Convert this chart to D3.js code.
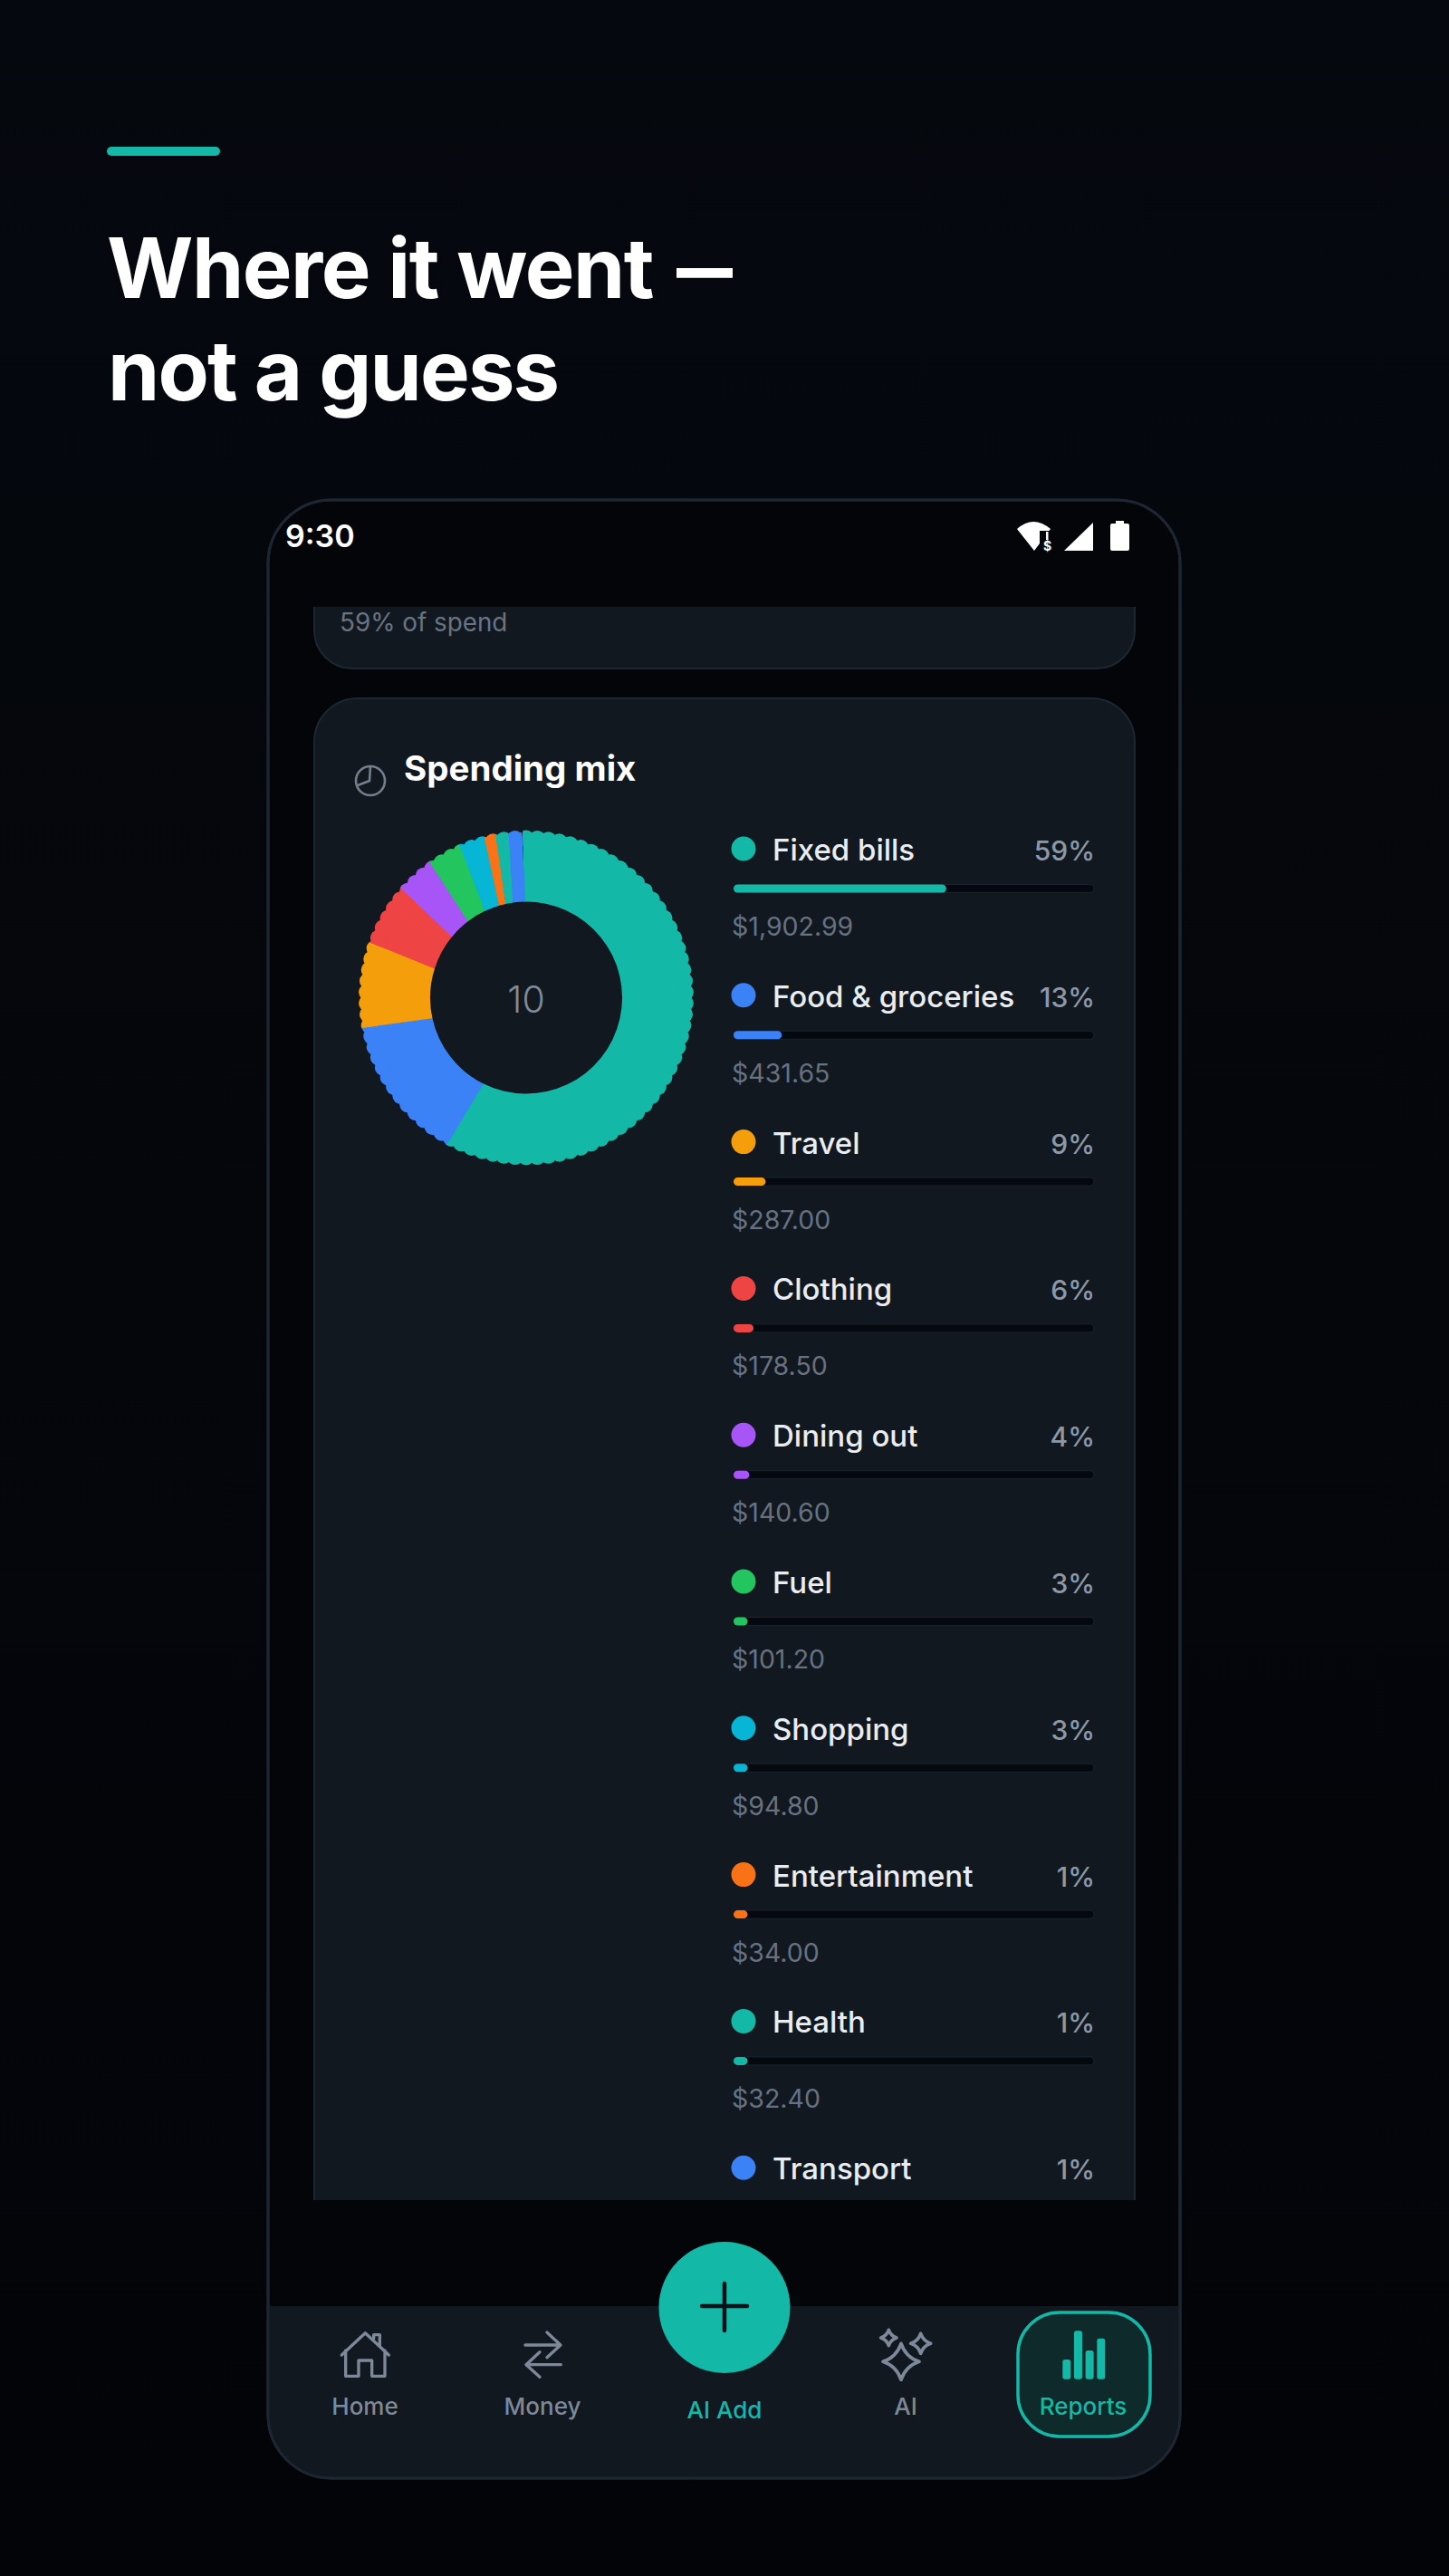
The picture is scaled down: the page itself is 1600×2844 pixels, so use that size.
<!DOCTYPE html>
<html>
<head>
<meta charset="utf-8">
<title>Where it went</title>
<script src="https://cdn.jsdelivr.net/npm/d3@7"></script>
<style>
  html, body { margin: 0; padding: 0; background: #04060b; }
  svg { display: block; font-family: Inter, "Open Sans", sans-serif; }
</style>
</head>
<body>
<div id="chart"></div>
<script>
// legend rows, top to bottom
const categories = ["Fixed bills", "Food & groceries", "Travel", "Clothing", "Dining out", "Fuel", "Shopping", "Entertainment", "Health", "Transport"]
const percentLabels = ["59%", "13%", "9%", "6%", "4%", "3%", "3%", "1%", "1%", "1%"]
const amounts = [1902.99, 431.65, 287.00, 178.50, 140.60, 101.20, 94.80, 34.00, 32.40]   // transport row is cut off by the scroll
const colors = ["#14b8a6", "#3b82f6", "#f59e0b", "#ef4444", "#a855f7", "#22c55e", "#06b6d4", "#f97316", "#14b8a6", "#3b82f6"]
// share of the ring each slice takes
const sliceShares = [57.8, 14.2, 8.3, 6.0, 3.7, 3.3, 2.5, 1.1, 1.25, 1.6]
const totalSpend = 3225
const centerLabel = "10"

const navLabels = ["Home", "Money", "AI Add", "AI", "Reports"]

const W = 1600, H = 2844
const teal = "#14b8a6", card = "#111820", edge = "#1d2631", muted = "#8d98a7", dim = "#677280", navGrey = "#7d8998"

const svg = d3.select("#chart").append("svg")
    .attr("width", W)
    .attr("height", H)

const defs = svg.append("defs")
const bg = defs.append("linearGradient").attr("id", "bg").attr("x1", 0).attr("y1", 0).attr("x2", 0).attr("y2", 1)
bg.append("stop").attr("offset", 0).attr("stop-color", "#05080e")
bg.append("stop").attr("offset", 1).attr("stop-color", "#030408")
svg.append("rect").attr("width", W).attr("height", H).attr("fill", "url(#bg)")

// headline
svg.append("rect").attr("x", 118).attr("y", 162).attr("width", 125).attr("height", 10).attr("rx", 5).attr("fill", teal)
const line1 = svg.append("text").attr("x", 118).attr("y", 329).attr("font-size", 92).attr("font-weight", 700)
    .attr("letter-spacing", -1.5).attr("fill", "#fff")
line1.append("tspan").text("Where it went ")
// the dash is much shorter in the original face
line1.append("tspan").attr("x", 747).attr("textLength", 61).attr("lengthAdjust", "spacingAndGlyphs").text("—")
svg.append("text").attr("x", 119).attr("y", 442).attr("font-size", 92).attr("font-weight", 700)
    .attr("letter-spacing", -1.85).attr("fill", "#fff").text("not a guess")

// phone
const phone = { x: 296, y: 552, w: 1007, h: 2184, r: 70 }
svg.append("rect").attr("x", phone.x).attr("y", phone.y).attr("width", phone.w).attr("height", phone.h)
    .attr("rx", phone.r).attr("fill", "#030509").attr("stroke", edge).attr("stroke-width", 3)

svg.append("text").attr("x", 315).attr("y", 604).attr("font-size", 34).attr("font-weight", 600).attr("fill", "#fff").text("9:30")

const status = svg.append("g")
status.append("path").attr("d", "M1142,608 L1123,584 Q1141,568 1160,584 Z").attr("fill", "#fff")
status.append("rect").attr("x", 1148).attr("y", 586).attr("width", 14).attr("height", 24).attr("fill", "#030509")
status.append("rect").attr("x", 1155).attr("y", 587).attr("width", 2.5).attr("height", 9).attr("fill", "#fff")
status.append("text").attr("x", 1156.5).attr("y", 608).attr("text-anchor", "middle").attr("font-size", 14)
    .attr("font-weight", 700).attr("fill", "#fff").text("$")
status.append("path").attr("d", "M1175,608 L1207,577 L1207,608 Z").attr("fill", "#fff")
status.append("path").attr("d", "M1226,580 Q1226,578 1228,578 L1232,578 L1232,575 L1241,575 L1241,578 L1245,578 Q1247,578 1247,580 L1247,606 Q1247,608 1245,608 L1228,608 Q1226,608 1226,606 Z").attr("fill", "#fff")

// scroll area clips the cards
defs.append("clipPath").attr("id", "scroll").append("rect").attr("x", 340).attr("y", 670).attr("width", 920).attr("height", 1759)
const scroll = svg.append("g").attr("clip-path", "url(#scroll)")

scroll.append("rect").attr("x", 347).attr("y", 580).attr("width", 906).attr("height", 158).attr("rx", 42)
    .attr("fill", card).attr("stroke", edge).attr("stroke-width", 2)
scroll.append("text").attr("x", 375).attr("y", 697).attr("font-size", 27.8).attr("fill", "#697482").text("59% of spend")

scroll.append("rect").attr("x", 347).attr("y", 771).attr("width", 906).attr("height", 1800).attr("rx", 48)
    .attr("fill", card).attr("stroke", edge).attr("stroke-width", 2)

// card title
const titleIcon = scroll.append("g").attr("transform", "translate(409,862)")
    .attr("fill", "none").attr("stroke", "#737f8d").attr("stroke-width", 2.6)
titleIcon.append("circle").attr("r", 16)
titleIcon.append("path").attr("d", "M0,-16 L-1,0 L-14,5")
scroll.append("text").attr("x", 446).attr("y", 862).attr("font-size", 38.5).attr("font-weight", 700).attr("fill", "#fff").text("Spending mix")

// donut
const cx = 581, cy = 1101.5, innerR = 106, rimR = 182.5, bumpR = 9, outerR = 185
const deg = Math.PI / 180

const pie = d3.pie().sort(null).value(d => d)
    .startAngle(-1.2 * deg).endAngle(358.8 * deg)
const slices = pie(sliceShares)

const polar = (r, a) => [r * Math.sin(a), -r * Math.cos(a)]

// slice edges lean a little in the picture: further round at the rim than at the hole
function wedge(d, i) {
    const lean = 1 * deg, far = outerR + 6
    const a0 = d.startAngle, a1 = d.endAngle + 0.25 * deg
    const p = d3.path()
    const start = i === 0 ? [a0, a0] : [a0 - lean, a0 + lean]
    const end = i === slices.length - 1 ? [a1 + lean * 0.6, a1 - lean * 0.6] : [a1 - lean, a1 + lean]
    p.moveTo(...polar(innerR, start[0]))
    p.lineTo(...polar(far, start[1]))
    p.arc(0, 0, far, start[1] - Math.PI / 2, end[1] - Math.PI / 2)
    p.lineTo(...polar(innerR, end[0]))
    p.arc(0, 0, innerR, end[0] - Math.PI / 2, start[0] - Math.PI / 2, true)
    p.closePath()
    return p.toString()
}

const bumpAngles = d3.range(0, 360, 4).map(a => a * deg)
const turn = 2 * Math.PI

slices.forEach((d, i) => {
    defs.append("clipPath").attr("id", "slice" + i).append("path")
        .attr("transform", `translate(${cx},${cy})`).attr("d", wedge(d, i))
    const g = svg.append("g").attr("clip-path", `url(#slice${i})`)
        .append("g").attr("transform", `translate(${cx},${cy})`).attr("fill", colors[i])
    const lo = d.startAngle - 8 * deg, hi = d.endAngle + 8 * deg
    g.append("circle").attr("r", rimR)
    g.selectAll("circle.bump")
        .data(bumpAngles.filter(a => (a >= lo && a <= hi) || (a - turn >= lo && a - turn <= hi)))
        .enter().append("circle").attr("class", "bump")
        .attr("cx", a => polar(outerR - bumpR, a)[0])
        .attr("cy", a => polar(outerR - bumpR, a)[1])
        .attr("r", bumpR)
})

svg.append("text").attr("x", cx).attr("y", cy + 16).attr("text-anchor", "middle").attr("font-size", 41).attr("font-weight", 300)
    .attr("fill", "#7f8b99").text(centerLabel)

// legend
const rowY = d3.scalePoint().domain(categories).range([937, 937 + 9 * 161.8])
const barX = d3.scaleLinear().domain([0, totalSpend]).range([810, 1208])
const money = d3.format("$,.2f")

const rows = scroll.selectAll("g.row").data(categories).enter().append("g")
    .attr("class", "row")
    .attr("transform", d => `translate(0,${rowY(d)})`)

rows.append("circle").attr("cx", 821).attr("r", 13.5).attr("fill", (d, i) => colors[i])
rows.append("text").attr("x", 853).attr("y", 13).attr("font-size", 33).attr("font-weight", 500).attr("fill", "#e9edf1").text(d => d)
rows.append("text").attr("x", 1209).attr("y", 13).attr("text-anchor", "end").attr("font-size", 30).attr("font-weight", 500)
    .attr("fill", muted).text((d, i) => percentLabels[i])
rows.append("rect").attr("x", 810).attr("y", 39.5).attr("width", 398).attr("height", 9).attr("rx", 4.5)
    .attr("fill", "#05080e").attr("stroke", "#1a232e").attr("stroke-width", 1)
rows.filter((d, i) => amounts[i] != null).append("rect").attr("x", 810).attr("y", 39.5)
    .attr("width", (d, i) => Math.max(barX(amounts[i]) - 810, 15.5)).attr("height", 9).attr("rx", 4.5)
    .attr("fill", (d, i) => colors[i])
rows.filter((d, i) => amounts[i] != null).append("text").attr("x", 808).attr("y", 96).attr("font-size", 28.5)
    .attr("fill", dim).text((d, i) => money(amounts[i]))

// bottom nav
defs.append("clipPath").attr("id", "phoneClip").append("rect").attr("x", phone.x).attr("y", phone.y)
    .attr("width", phone.w).attr("height", phone.h).attr("rx", phone.r)
svg.append("rect").attr("x", phone.x).attr("y", 2546).attr("width", phone.w).attr("height", phone.h + phone.y - 2546)
    .attr("fill", card).attr("clip-path", "url(#phoneClip)")
svg.append("rect").attr("x", phone.x).attr("y", phone.y).attr("width", phone.w).attr("height", phone.h)
    .attr("rx", phone.r).attr("fill", "none").attr("stroke", edge).attr("stroke-width", 3)

svg.append("rect").attr("x", 1124).attr("y", 2553).attr("width", 146).attr("height", 137).attr("rx", 46)
    .attr("fill", "#0f2a2a").attr("stroke", teal).attr("stroke-width", 3.5)

svg.append("circle").attr("cx", 800).attr("cy", 2547.5).attr("r", 72.5).attr("fill", teal)
svg.append("path").attr("d", "M775,2546 H825 M800,2521 V2573").attr("stroke", "#04121a").attr("stroke-width", 4.5).attr("stroke-linecap", "round")

const navX = d3.scaleOrdinal().domain(navLabels).range([403, 599, 800, 1000, 1196])
const navBase = { "AI Add": 2670 }
svg.selectAll("text.nav").data(navLabels).enter().append("text").attr("class", "nav")
    .attr("x", d => navX(d)).attr("y", d => navBase[d] || 2666)
    .attr("text-anchor", "middle").attr("font-size", 26).attr("font-weight", 500)
    .attr("fill", d => (d === "AI Add" || d === "Reports") ? teal : navGrey)
    .text(d => d)

// nav icons, outlined in zoom pixels and scaled down
const iconLeft = svg.append("g").attr("transform", "translate(300,2540) scale(0.3333)")
    .attr("fill", "none").attr("stroke", navGrey).attr("stroke-width", 10).attr("stroke-linejoin", "round").attr("stroke-linecap", "round")
iconLeft.append("path").attr("d", "M232,180 L310,107 L388,180 M358,152 V113 H338 V125 M245,165 V250 H288 V198 H332 V250 H375 V165")
iconLeft.append("path").attr("d", "M840,147 H955 M912,105 L957,147 L912,188 M958,212 H845 M888,170 L843,212 L888,253")

const star = (x, y, r) => {
    const k = r * 0.25
    return `M${x},${y - r} Q${x + k},${y - k} ${x + r},${y} Q${x + k},${y + k} ${x},${y + r} Q${x - k},${y + k} ${x - r},${y} Q${x - k},${y - k} ${x},${y - r} Z`
}
const iconRight = svg.append("g").attr("transform", "translate(900,2540) scale(0.3333)")
iconRight.append("g").attr("fill", "none").attr("stroke", navGrey).attr("stroke-width", 11).attr("stroke-linejoin", "round")
    .selectAll("path").data([[285, 202, 60], [244, 123, 26], [350, 142, 33]]).enter().append("path")
    .attr("d", d => star(d[0], d[1], d[2]))
iconRight.append("g").attr("fill", teal)
    .selectAll("rect").data([[820, 195], [858, 100], [896, 165], [934, 125]]).enter().append("rect")
    .attr("x", d => d[0]).attr("y", d => d[1]).attr("width", 27).attr("height", d => 260 - d[1]).attr("rx", 8)
</script>
</body>
</html>
